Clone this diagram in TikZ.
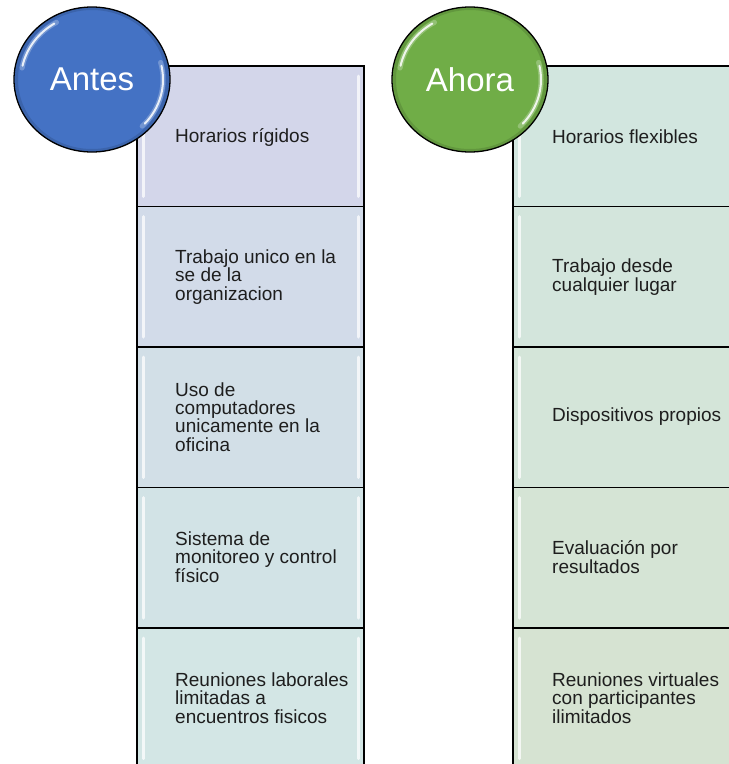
\documentclass[tikz,border=0pt]{standalone}
\usepackage{fontspec}
\setmainfont{Liberation Sans}
\usetikzlibrary{shapes.geometric}
\definecolor{lb1}{HTML}{D3D6EA}
\definecolor{lb2}{HTML}{D2DBE9}
\definecolor{lb3}{HTML}{D2DFE7}
\definecolor{lb4}{HTML}{D2E3E6}
\definecolor{lb5}{HTML}{D3E6E5}
\definecolor{rb1}{HTML}{D2E6DF}
\definecolor{rb2}{HTML}{D3E5DC}
\definecolor{rb3}{HTML}{D4E5D9}
\definecolor{rb4}{HTML}{D5E4D5}
\definecolor{rb5}{HTML}{D6E3D2}
\definecolor{antesblue}{HTML}{4472C4}
\definecolor{ahoragreen}{HTML}{70AD47}
\definecolor{txt}{HTML}{1E1E1E}
\tikzset{
  rowbox/.style={draw=black, line width=1.4pt, minimum width=227pt, minimum height=140.5pt, inner sep=0pt, outer sep=0pt},
  rowtext/.style={anchor=west, align=left, inner sep=0pt, text=txt, font=\fontsize{19}{18.3}\selectfont},
  bigball/.style={ellipse, draw=black, line width=1.3pt, minimum width=156pt, minimum height=145pt, inner sep=0pt},
  balltext/.style={text=white, font=\fontsize{33}{35}\selectfont},
  bevel/.style={white, line width=3pt, opacity=0.75, line cap=round},
  glosswide/.style={white, line width=5pt, opacity=0.25, line cap=round},
  gloss/.style={white, line width=2pt, opacity=0.85, line cap=round},
  rim/.style={black, line width=3pt, opacity=0.12}
}
\begin{document}
\begin{tikzpicture}[x=1pt,y=-1pt]
\useasboundingbox (0,0) rectangle (729,764);
\clip (0,0) rectangle (729,764);
\fill[white] (0,0) rectangle (729,764);
% left column
\foreach \i/\c in {1/lb1,2/lb2,3/lb3,4/lb4,5/lb5}{
  \node[rowbox, fill=\c] (L\i) at (250.5, {66+140.5*(\i-1)+70.25}) {};
  \draw[bevel] ([xshift=6pt,yshift=-10pt]L\i.north west) -- ([xshift=6pt,yshift=10pt]L\i.south west);
  \draw[bevel] ([xshift=-6pt,yshift=-10pt]L\i.north east) -- ([xshift=-6pt,yshift=10pt]L\i.south east);
}
% right column
\foreach \i/\c in {1/rb1,2/rb2,3/rb3,4/rb4,5/rb5}{
  \node[rowbox, fill=\c] (R\i) at (626.5, {66+140.5*(\i-1)+70.25}) {};
  \draw[bevel] ([xshift=6pt,yshift=-10pt]R\i.north west) -- ([xshift=6pt,yshift=10pt]R\i.south west);
}
% texts left
\node[rowtext] (tL1) at (175,137) {Horarios rígidos};
\node[rowtext] (tL2) at (175,277) {Trabajo unico en la\\se de la\\organizacion};
\node[rowtext] (tL3) at (175,417) {Uso de\\computadores\\unicamente en la\\oficina};
\node[rowtext] (tL4) at (175,557) {Sistema de\\monitoreo y control\\físico};
\node[rowtext] (tL5) at (175,698) {Reuniones laborales\\limitadas a\\encuentros fisicos};
% texts right
\node[rowtext] (tR1) at (552,137) {Horarios flexibles};
\node[rowtext] (tR2) at (552,277) {Trabajo desde\\cualquier lugar};
\node[rowtext] (tR3) at (552,417) {Dispositivos propios};
\node[rowtext] (tR4) at (552,557) {Evaluación por\\resultados};
\node[rowtext] (tR5) at (552,698) {Reuniones virtuales\\con participantes\\ilimitados};
% balls
\foreach \n/\c in {antes/antesblue, ahora/ahoragreen}{
}
\node[bigball, fill=antesblue] (antes) at (92,79.5) {};
\node[bigball, fill=ahoragreen] (ahora) at (470,79.5) {};
\foreach \n in {antes, ahora}{
  \draw[rim] (\n.center) ellipse[x radius=75.5pt, y radius=71pt];
  \draw[glosswide] (\n.center) ++(170:71pt and 66pt) arc[start angle=170, end angle=120, x radius=71pt, y radius=66pt];
  \draw[gloss] (\n.center) ++(168:71pt and 66pt) arc[start angle=168, end angle=122, x radius=71pt, y radius=66pt];
  \draw[glosswide] (\n.center) ++(15:71pt and 66pt) arc[start angle=15, end angle=-45, x radius=71pt, y radius=66pt];
  \draw[gloss] (\n.center) ++(12:71pt and 66pt) arc[start angle=12, end angle=-42, x radius=71pt, y radius=66pt];
}
\node[balltext] (antesT) at (antes.center) {Antes};
\node[balltext] (ahoraT) at (ahora.center) {Ahora};
\end{tikzpicture}
\end{document}
